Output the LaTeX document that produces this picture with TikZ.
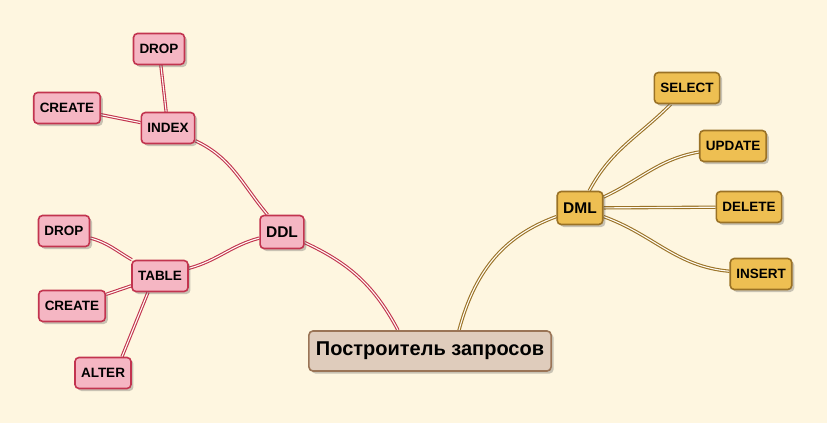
\documentclass[tikz,border=0pt]{standalone}
\usepackage{fontspec}
\setmainfont{Liberation Sans}
\usepackage{tikz}
\usetikzlibrary{shadows,backgrounds}
\usepackage{xcolor}

\definecolor{paper}{HTML}{FEF6E0}
\definecolor{rosefill}{HTML}{F5B6C3}
\definecolor{roseline}{HTML}{C2344F}
\definecolor{goldfill}{HTML}{EEBF52}
\definecolor{goldline}{HTML}{9A7226}
\definecolor{rootfill}{HTML}{DFCCBC}
\definecolor{rootline}{HTML}{9A7456}

\begin{document}
\begin{tikzpicture}[
    x=1pt, y=1pt,
    box/.style={rectangle, rounded corners=4pt, line width=1.6pt, inner xsep=6pt,
        font=\bfseries\fontsize{13.5}{15}\selectfont,
        drop shadow={shadow xshift=2.5pt, shadow yshift=-2.5pt, opacity=.3, fill=black!70}},
    ddlbox/.style={box, draw=roseline, fill=rosefill, minimum height=31pt},
    dmlbox/.style={box, draw=goldline, fill=goldfill, minimum height=31pt},
    branch/.style={minimum height=33pt, font=\bfseries\fontsize{15.5}{17}\selectfont},
    rootbox/.style={box, draw=rootline, fill=rootfill, minimum height=40pt, inner xsep=7pt,
        font=\bfseries\fontsize{20}{22}\selectfont},
    redlink/.style={draw=roseline, line width=1.1pt, double=white!60!paper, double distance=1.1pt},
    goldlink/.style={draw=goldline, line width=1.1pt, double=white!60!paper, double distance=1.1pt}
]
    \useasboundingbox (0,0) rectangle (827,-423);
    \begin{scope}[on background layer]
        \fill[paper] (0,0) rectangle (827,-423);
    \end{scope}

    % Root
    \node[rootbox] (root) at (430,-351) {Построитель запросов};

    % DDL side
    \node[ddlbox, branch] (ddl) at (282,-232) {DDL};
    \node[ddlbox] (index) at (168,-128) {INDEX};
    \node[ddlbox] (idxdrop) at (159,-49) {DROP};
    \node[ddlbox] (idxcreate) at (67,-108) {CREATE};
    \node[ddlbox] (table) at (160,-276) {TABLE};
    \node[ddlbox] (tbldrop) at (64,-231) {DROP};
    \node[ddlbox] (tblcreate) at (72,-306) {CREATE};
    \node[ddlbox] (alter) at (103,-373) {ALTER};

    % DML side
    \node[dmlbox, branch] (dml) at (580,-208) {DML};
    \node[dmlbox] (select) at (687,-88) {SELECT};
    \node[dmlbox] (update) at (733,-146) {UPDATE};
    \node[dmlbox] (delete) at (749,-207) {DELETE};
    \node[dmlbox] (insert) at (761,-274) {INSERT};

    % Links
    \begin{scope}[on background layer]
        \draw[redlink] ([xshift=-32pt]root.north) to[out=118, in=-25] (ddl);
        \draw[redlink] (ddl) to[out=130, in=-25] (index);
        \draw[redlink] (index) -- (idxdrop);
        \draw[redlink] (index) -- (idxcreate);
        \draw[redlink] (ddl) to[out=195, in=15] (table);
        \draw[redlink] (table) to[out=150, in=-15] (tbldrop);
        \draw[redlink] (table) -- (tblcreate);
        \draw[redlink] ([xshift=-12pt]table.south) -- ([xshift=19pt]alter.north);

        \draw[goldlink] ([xshift=29pt]root.north) to[out=75, in=200] (dml);
        \draw[goldlink] (dml) to[out=62, in=225] (select);
        \draw[goldlink] (dml) to[out=25, in=190] (update);
        \draw[goldlink] (dml) -- (delete);
        \draw[goldlink] (dml) to[out=-20, in=175] (insert);
    \end{scope}
\end{tikzpicture}
\end{document}
